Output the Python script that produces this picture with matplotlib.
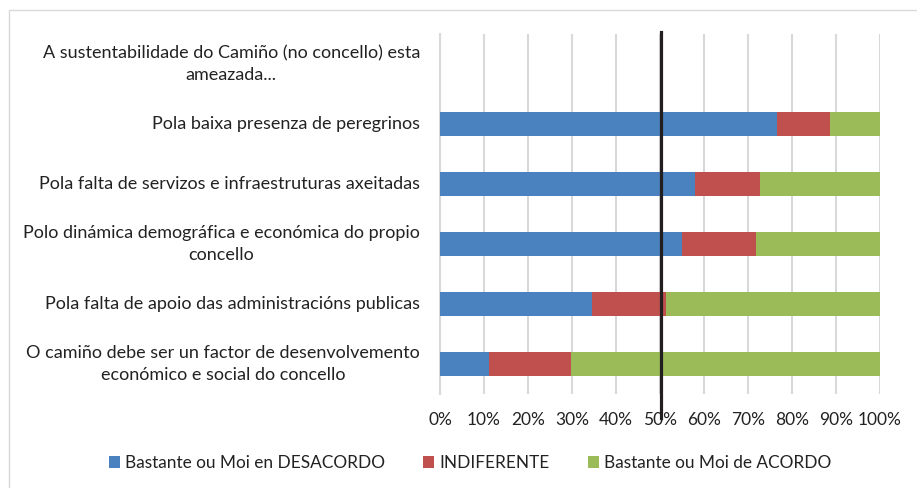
import matplotlib
matplotlib.use("Agg")
import matplotlib.pyplot as plt
from matplotlib.patches import Rectangle
from matplotlib.lines import Line2D
import matplotlib.transforms as mtransforms

plt.rcParams['font.family'] = ['Lato', 'DejaVu Sans']

categories = [
    "A sustentabilidade do Camiño (no concello) esta\nameazada...",
    "Pola baixa presenza de peregrinos",
    "Pola falta de servizos e infraestruturas axeitadas",
    "Polo dinámica demográfica e económica do propio\nconcello",
    "Pola falta de apoio das administracións publicas",
    "O camiño debe ser un factor de desenvolvemento\neconómico e social do concello",
]
desacordo = [0, 76.7, 57.9, 55.1, 34.6, 11.2]
indiferente = [0, 11.9, 14.8, 16.7, 16.8, 18.6]
acordo = [0, 11.4, 27.3, 28.2, 48.6, 70.2]
series_names = ["Bastante ou Moi en DESACORDO", "INDIFERENTE", "Bastante ou Moi de ACORDO"]
colors = ["#4A81BF", "#C0504D", "#9BBB59"]
xticks = list(range(0, 101, 10))
ref_line = 50.2

W, H = 917, 488
fig = plt.figure(figsize=(W/100, H/100), dpi=100)
ax = fig.add_axes([440/W, 1-394/H, 440/W, 360/H])

ypos = list(range(len(categories)))
left = [0]*len(categories)
handles = []
for vals, name, c in zip([desacordo, indiferente, acordo], series_names, colors):
    b = ax.barh(ypos, vals, left=left, height=0.4, color=c, label=name, zorder=3)
    handles.append(b)
    left = [l+v for l, v in zip(left, vals)]

ax.set_ylim(len(categories)-0.5, -0.5)
ax.set_xlim(0, 100)
ax.set_xticks(xticks)
ax.set_xticklabels([f"{t}%" for t in xticks], fontsize=12.5)
ax.set_yticks([])
ax.tick_params(axis='both', length=0, colors='#222222')
ax.tick_params(axis='x', pad=13)
for y, lab in zip(ypos, categories):
    ax.annotate(lab, xy=(0, y), xycoords=('axes fraction', 'data'),
                xytext=(-20, 0), textcoords='offset pixels',
                ha='right', va='center', multialignment='center',
                fontsize=13, linespacing=1.45, color='#222222')
ax.grid(axis='x', color='#D9D9D9', linewidth=1.5, zorder=0)
for s in ['top', 'right', 'bottom']:
    ax.spines[s].set_visible(False)
ax.spines['left'].set_color('#D9D9D9')
ax.spines['left'].set_linewidth(1.5)

# reference vertical line
trans = mtransforms.blended_transform_factory(ax.transData, fig.transFigure)
ax.add_line(Line2D([ref_line, ref_line], [1-32/H, 1-418/H], transform=trans,
                   color='#231F20', linewidth=2.3, clip_on=False, zorder=5))

# chart border
fig.patches.append(Rectangle((9/W, -0.01), 1.0, 1-10/H+0.01, transform=fig.transFigure,
                             fill=False, edgecolor='#D9D9D9', linewidth=1))

fig.legend(handles=handles, labels=series_names, loc='center', bbox_to_anchor=(470/W, 1-463/H),
           ncol=3, frameon=False, fontsize=12.4, handlelength=0.65, handleheight=0.65,
           handletextpad=0.3, columnspacing=2.2, labelcolor='#222222')

fig.savefig("out.png", dpi=100)
